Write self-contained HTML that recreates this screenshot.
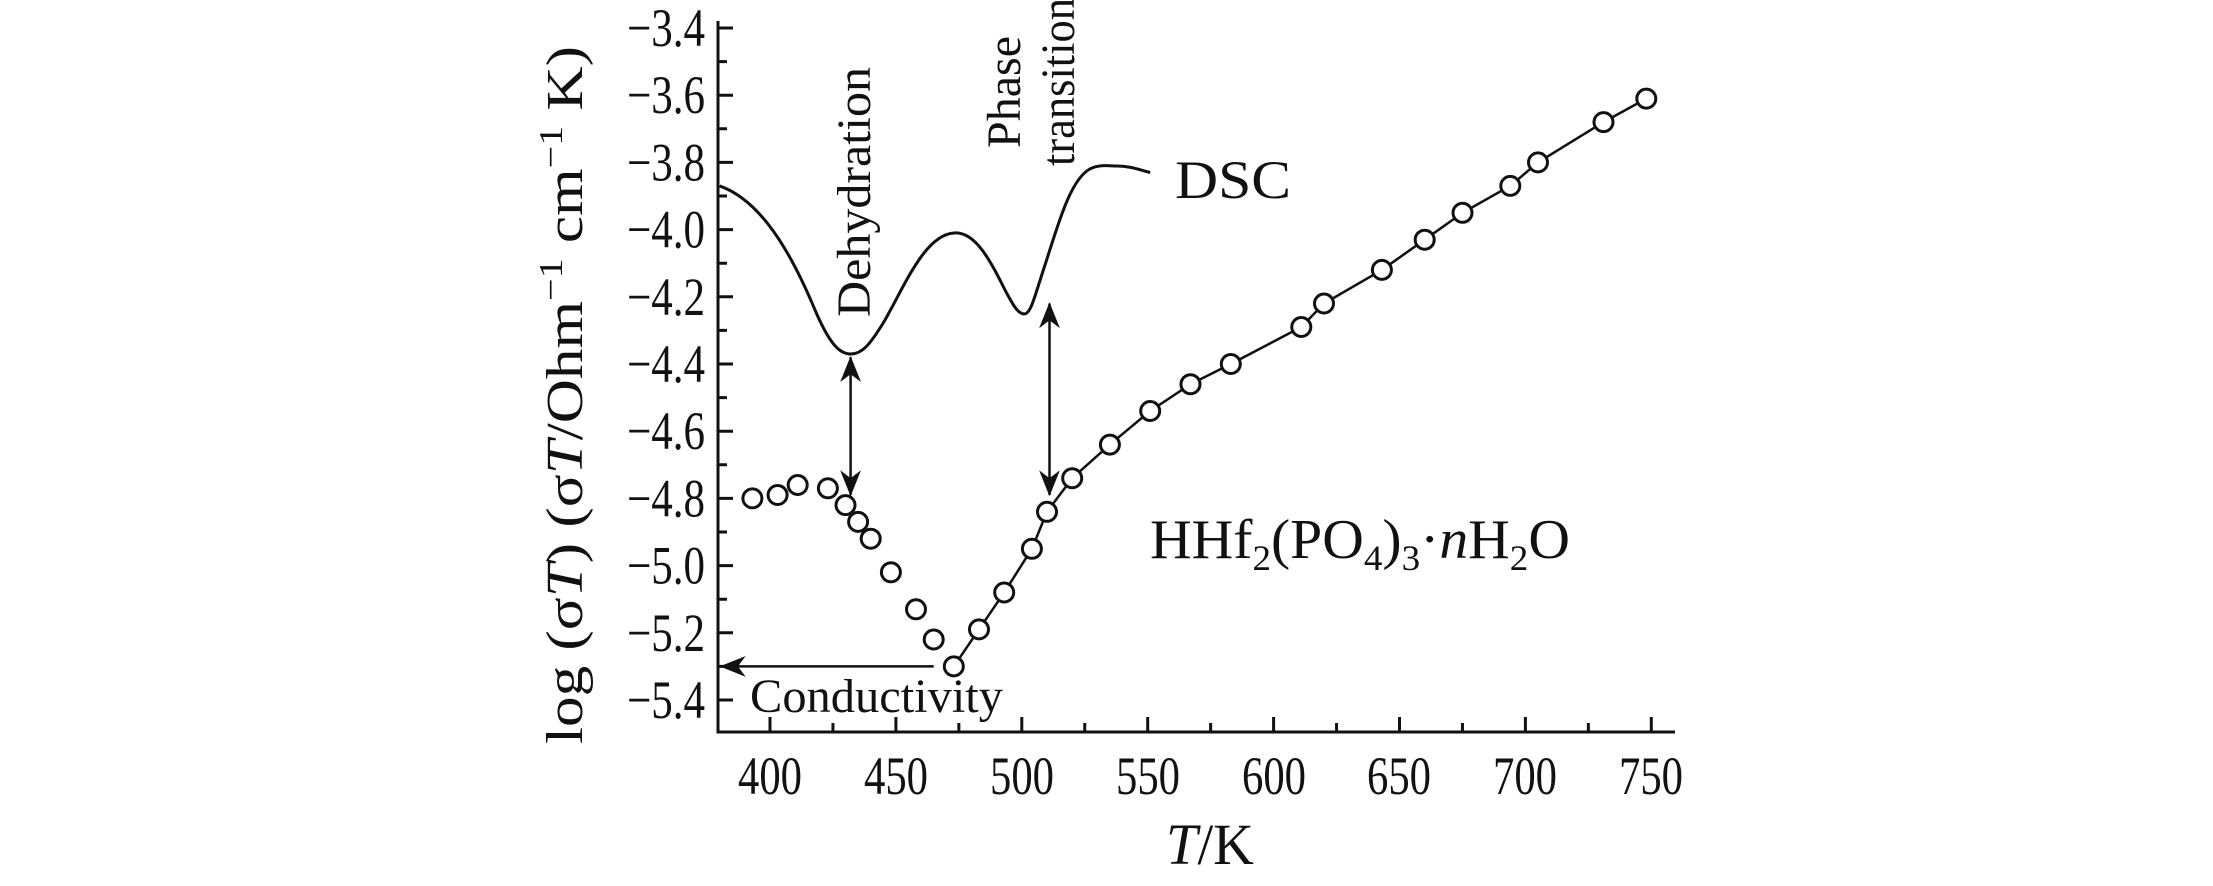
<!DOCTYPE html>
<html><head><meta charset="utf-8"><style>html,body{margin:0;padding:0;background:#fff}svg{display:block}</style></head><body>
<svg width="2213" height="886" viewBox="0 0 2213 886" xmlns="http://www.w3.org/2000/svg" font-family="Liberation Serif, serif" fill="#111">
<defs>
<marker id="ab" viewBox="0 0 20 20" refX="19" refY="10" markerWidth="26" markerHeight="26" orient="auto-start-reverse" markerUnits="userSpaceOnUse"><path d="M0,2 L20,10 L0,18 L6,10z" fill="#111"/></marker></defs>
<g stroke="#111" stroke-width="3" fill="none">
<path d="M718,21 V732 H1675"/>
<path d="M770,732v-15 M832.95,732v-9 M895.9,732v-15 M958.85,732v-9 M1021.8,732v-15 M1084.75,732v-9 M1147.7,732v-15 M1210.65,732v-9 M1273.6,732v-15 M1336.55,732v-9 M1399.5,732v-15 M1462.45,732v-9 M1525.4,732v-15 M1588.35,732v-9 M1651.3,732v-15"/>
<path d="M718,28h15 M718,61.6h9 M718,95.2h15 M718,128.8h9 M718,162.4h15 M718,196h9 M718,229.6h15 M718,263.2h9 M718,296.8h15 M718,330.4h9 M718,364h15 M718,397.6h9 M718,431.2h15 M718,464.8h9 M718,498.4h15 M718,532h9 M718,565.6h15 M718,599.2h9 M718,632.8h15 M718,666.4h9 M718,700h15"/>
<path stroke-linejoin="round" d="M719.6,185.9 C760,200 790,250 815,310 C830,345 840,354 850.6,354 C862,354 870,345 885,320 C905,285 925,235 953.8,233 C975,231 990,260 1005,290 C1013,305 1018,314 1024.3,314 C1031,314 1035,295 1045,265 C1058,225 1070,180 1089.8,169 C1100,164 1110,166 1117.5,166 C1130,166 1140,170 1150.2,172.5"/>
<path stroke-width="2.5" d="M953.8,666.4 L979,629.4 L1004.2,592.5 L1031.9,548.8 L1047,511.8 L1072.2,478.2 L1109.9,444.6 L1150.2,411 L1190.5,384.2 L1230.8,364 L1301.3,327 L1324,303.5 L1381.9,269.9 L1424.7,239.7 L1462.5,212.8 L1510.3,185.9 L1538,162.4 L1603.5,122.1 L1646.3,98.6 L1651.3,93.5"/>
<line stroke-width="2.5" x1="850.6" y1="357.3" x2="850.6" y2="495" marker-start="url(#ab)" marker-end="url(#ab)"/>
<line stroke-width="2.5" x1="1049.5" y1="303.5" x2="1049.5" y2="495" marker-start="url(#ab)" marker-end="url(#ab)"/>
<line stroke-width="2.5" x1="933.7" y1="666.4" x2="721" y2="666.4" marker-end="url(#ab)"/>
</g>
<g fill="#fff" stroke="#111" stroke-width="3">
<circle cx="752.4" cy="498.4" r="9.5"/><circle cx="777.6" cy="495" r="9.5"/><circle cx="797.7" cy="485" r="9.5"/><circle cx="827.9" cy="488.3" r="9.5"/><circle cx="845.5" cy="505.1" r="9.5"/><circle cx="858.1" cy="521.9" r="9.5"/><circle cx="870.7" cy="538.7" r="9.5"/><circle cx="890.9" cy="572.3" r="9.5"/><circle cx="916" cy="609.3" r="9.5"/><circle cx="933.7" cy="639.5" r="9.5"/><circle cx="953.8" cy="666.4" r="9.5"/><circle cx="979" cy="629.4" r="9.5"/><circle cx="1004.2" cy="592.5" r="9.5"/><circle cx="1031.9" cy="548.8" r="9.5"/><circle cx="1047" cy="511.8" r="9.5"/><circle cx="1072.2" cy="478.2" r="9.5"/><circle cx="1109.9" cy="444.6" r="9.5"/><circle cx="1150.2" cy="411" r="9.5"/><circle cx="1190.5" cy="384.2" r="9.5"/><circle cx="1230.8" cy="364" r="9.5"/><circle cx="1301.3" cy="327" r="9.5"/><circle cx="1324" cy="303.5" r="9.5"/><circle cx="1381.9" cy="269.9" r="9.5"/><circle cx="1424.7" cy="239.7" r="9.5"/><circle cx="1462.5" cy="212.8" r="9.5"/><circle cx="1510.3" cy="185.9" r="9.5"/><circle cx="1538" cy="162.4" r="9.5"/><circle cx="1603.5" cy="122.1" r="9.5"/><circle cx="1646.3" cy="98.6" r="9.5"/>
</g>
<g font-size="54">
<text x="738" y="794" textLength="64" lengthAdjust="spacingAndGlyphs">400</text>
<text x="864" y="794" textLength="64" lengthAdjust="spacingAndGlyphs">450</text>
<text x="990" y="794" textLength="64" lengthAdjust="spacingAndGlyphs">500</text>
<text x="1116" y="794" textLength="64" lengthAdjust="spacingAndGlyphs">550</text>
<text x="1242" y="794" textLength="64" lengthAdjust="spacingAndGlyphs">600</text>
<text x="1367" y="794" textLength="64" lengthAdjust="spacingAndGlyphs">650</text>
<text x="1493" y="794" textLength="64" lengthAdjust="spacingAndGlyphs">700</text>
<text x="1619" y="794" textLength="64" lengthAdjust="spacingAndGlyphs">750</text>
<text x="627" y="46" textLength="78" lengthAdjust="spacingAndGlyphs">−3.4</text>
<text x="627" y="113.2" textLength="78" lengthAdjust="spacingAndGlyphs">−3.6</text>
<text x="627" y="180.4" textLength="78" lengthAdjust="spacingAndGlyphs">−3.8</text>
<text x="627" y="247.6" textLength="78" lengthAdjust="spacingAndGlyphs">−4.0</text>
<text x="627" y="314.8" textLength="78" lengthAdjust="spacingAndGlyphs">−4.2</text>
<text x="627" y="382" textLength="78" lengthAdjust="spacingAndGlyphs">−4.4</text>
<text x="627" y="449.2" textLength="78" lengthAdjust="spacingAndGlyphs">−4.6</text>
<text x="627" y="516.4" textLength="78" lengthAdjust="spacingAndGlyphs">−4.8</text>
<text x="627" y="583.6" textLength="78" lengthAdjust="spacingAndGlyphs">−5.0</text>
<text x="627" y="650.8" textLength="78" lengthAdjust="spacingAndGlyphs">−5.2</text>
<text x="627" y="718" textLength="78" lengthAdjust="spacingAndGlyphs">−5.4</text>
</g>
<text x="750" y="712" font-size="48" textLength="253" lengthAdjust="spacingAndGlyphs">Conductivity</text>
<text x="1175" y="198" font-size="54" textLength="116" lengthAdjust="spacingAndGlyphs">DSC</text>
<text transform="translate(870,192) rotate(-90)" font-size="48" text-anchor="middle" textLength="250" lengthAdjust="spacingAndGlyphs">Dehydration</text>
<text transform="translate(1020,148) rotate(-90)" font-size="48" textLength="112" lengthAdjust="spacingAndGlyphs">Phase</text>
<text transform="translate(1074,166) rotate(-90)" font-size="48" textLength="168" lengthAdjust="spacingAndGlyphs">transition</text>
<text x="1150" y="558" font-size="56" textLength="420" lengthAdjust="spacingAndGlyphs">HHf<tspan font-size="36" dy="12">2</tspan><tspan dy="-12">(PO</tspan><tspan font-size="36" dy="12">4</tspan><tspan dy="-12">)</tspan><tspan font-size="36" dy="12">3</tspan><tspan dy="-12">·</tspan><tspan font-style="italic">n</tspan>H<tspan font-size="36" dy="12">2</tspan><tspan dy="-12">O</tspan></text>
<text transform="translate(582,395) rotate(-90)" font-size="52" text-anchor="middle" textLength="698" lengthAdjust="spacingAndGlyphs">log (σ<tspan font-style="italic">T</tspan>) (σ<tspan font-style="italic">T</tspan>/Ohm<tspan font-size="34" dy="-20">−1</tspan><tspan dy="20"> cm</tspan><tspan font-size="34" dy="-20">−1</tspan><tspan dy="20"> K)</tspan></text>
<text x="1166" y="864" font-size="58" textLength="88" lengthAdjust="spacingAndGlyphs"><tspan font-style="italic">T</tspan>/K</text>
</svg>
</body></html>
